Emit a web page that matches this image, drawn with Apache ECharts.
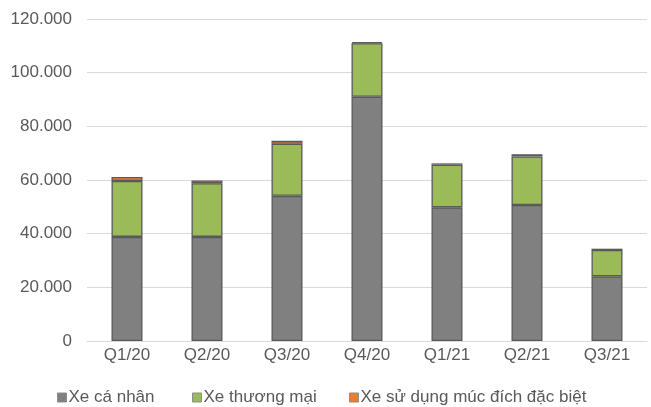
<!DOCTYPE html>
<html>
<head>
<meta charset="utf-8">
<script src="https://cdn.jsdelivr.net/npm/echarts@6/dist/echarts.min.js"></script>
<style>
  html, body { margin: 0; padding: 0; background: #ffffff; }
  #chart { width: 651px; height: 407px; }
</style>
</head>
<body>
<div id="chart"></div>
<script>
// Quarterly vehicle sales, stacked by vehicle type
const categories = ['Q1/20', 'Q2/20', 'Q3/20', 'Q4/20', 'Q1/21', 'Q2/21', 'Q3/21'];
const seriesNames = ['Xe cá nhân', 'Xe thương mại', 'Xe sử dụng múc đích đặc biệt'];
const personal = [38800, 38800, 54100, 91000, 49800, 50700, 24100];
const commercial = [20800, 20000, 19400, 20000, 15900, 18100, 9800];
const special = [1500, 1000, 1100, 400, 500, 800, 500];
const yTicks = [0, 20000, 40000, 60000, 80000, 100000, 120000];

const FONT = '"Liberation Sans", Arial, sans-serif';
const TEXT = '#595959';
const colors = ['#808080', '#9bbb59', '#ed7d31'];
const values = [personal, commercial, special];

const chart = echarts.init(document.getElementById('chart'), null, { renderer: 'canvas' });

const legendLefts = [57, 192, 349];

chart.setOption({
  animation: false,
  textStyle: { fontFamily: FONT },
  grid: { left: 87, right: 4, top: 19, bottom: 66, containLabel: false },
  legend: seriesNames.map((name, i) => ({
    data: [name],
    left: legendLefts[i],
    top: 389,
    padding: 0,
    itemWidth: 9,
    itemHeight: 9,
    icon: 'rect',
    itemStyle: { borderColor: '#8c8c8c', borderWidth: 1 },
    textStyle: { fontFamily: FONT, fontSize: 17, color: TEXT, padding: [0, 0, 0, -3] }
  })),
  xAxis: {
    type: 'category',
    data: categories,
    axisLine: { show: true, lineStyle: { color: '#d9d9d9', width: 1 } },
    axisTick: { show: false },
    axisLabel: { color: TEXT, fontSize: 17, fontFamily: FONT, margin: 6 }
  },
  yAxis: {
    type: 'value',
    min: yTicks[0],
    max: yTicks[yTicks.length - 1],
    interval: yTicks[1] - yTicks[0],
    axisLine: { show: false },
    axisTick: { show: false },
    splitLine: { lineStyle: { color: '#d9d9d9', width: 1 } },
    axisLabel: {
      color: TEXT,
      fontSize: 17,
      fontFamily: FONT,
      margin: 15,
      formatter: v => v === 0 ? '0' : String(v).replace(/\B(?=(\d{3})+(?!\d))/g, '.')
    }
  },
  series: seriesNames.map((name, i) => ({
    name: name,
    type: 'bar',
    stack: 'total',
    barWidth: 31,
    data: values[i],
    itemStyle: { color: colors[i], borderColor: '#595959', borderWidth: 1.3 }
  }))
});
</script>
</body>
</html>
